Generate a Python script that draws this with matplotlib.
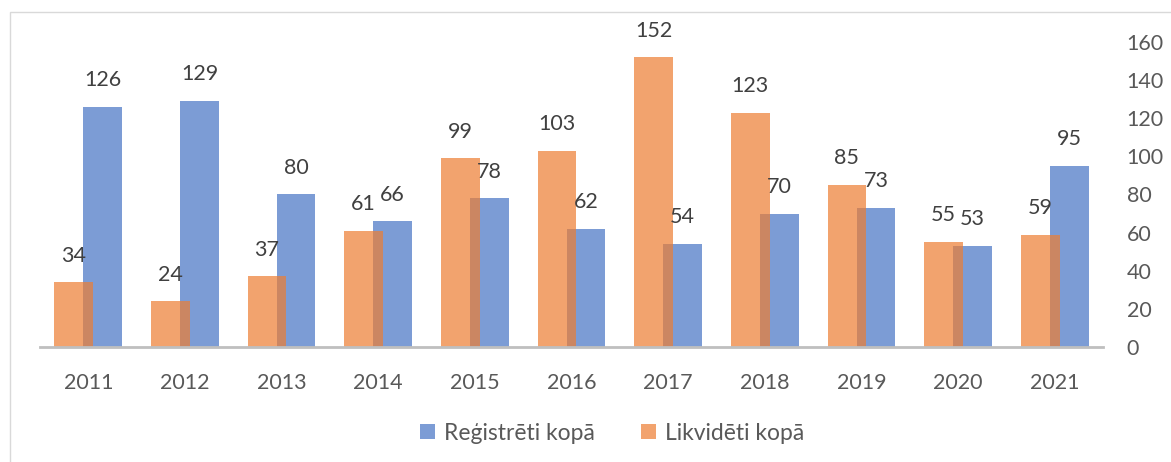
import numpy as np
import matplotlib
matplotlib.use('Agg')
import matplotlib.pyplot as plt
from matplotlib.patches import Rectangle

years = ['2011', '2012', '2013', '2014', '2015', '2016', '2017', '2018', '2019', '2020', '2021']
registreti = [126, 129, 80, 66, 78, 62, 54, 70, 73, 53, 95]
likvideti = [34, 24, 37, 61, 99, 103, 152, 123, 85, 55, 59]

plt.rcParams['font.family'] = ['Lato', 'DejaVu Sans']
txt = '#595959'
fs = 15.5

fig = plt.figure(figsize=(11.71, 4.62), dpi=100)
ax = fig.add_axes([40 / 1171, 115 / 462, 1063 / 1171, 305 / 462])

x = np.arange(len(years))
w, off = 0.4, 0.15
b1 = ax.bar(x + off, registreti, w, color='#4472C4', alpha=0.7, label='Reģistrēti kopā')
b2 = ax.bar(x - off, likvideti, w, color='#ED7D31', alpha=0.7, label='Likvidēti kopā')

for bars, vals in ((b1, registreti), (b2, likvideti)):
    for r, v in zip(bars, vals):
        ax.annotate(str(v), (r.get_x() + r.get_width() / 2, v), xytext=(0, 12),
                    textcoords='offset points', ha='center', va='bottom',
                    fontsize=fs, color='#404040')

ax.set_xlim(-0.5, len(years) - 0.5)
ax.set_ylim(0, 160)
ax.set_yticks(range(0, 161, 20))
ax.yaxis.tick_right()
ax.set_xticks(x)
ax.set_xticklabels(years)
ax.tick_params(axis='both', length=0, labelsize=fs, labelcolor=txt)
ax.tick_params(axis='x', pad=19)
ax.tick_params(axis='y', pad=17)
for s in ('top', 'left', 'right'):
    ax.spines[s].set_visible(False)
ax.spines['bottom'].set_color('#BFBFBF')
ax.spines['bottom'].set_linewidth(2)

fig.legend(handles=[b1, b2], loc='center', bbox_to_anchor=(612 / 1171, 1 - 433 / 462),
           ncol=2, frameon=False, fontsize=16.5, labelcolor=txt, handlelength=0.65,
           handleheight=0.65, handletextpad=0.4, columnspacing=2.0)

fig.patches.append(Rectangle((10 / 1171, -0.1), 1.2, 1.1 - 12 / 462, transform=fig.transFigure,
                             fill=False, edgecolor='#D9D9D9', linewidth=1))

fig.savefig('out.png', dpi=100)
